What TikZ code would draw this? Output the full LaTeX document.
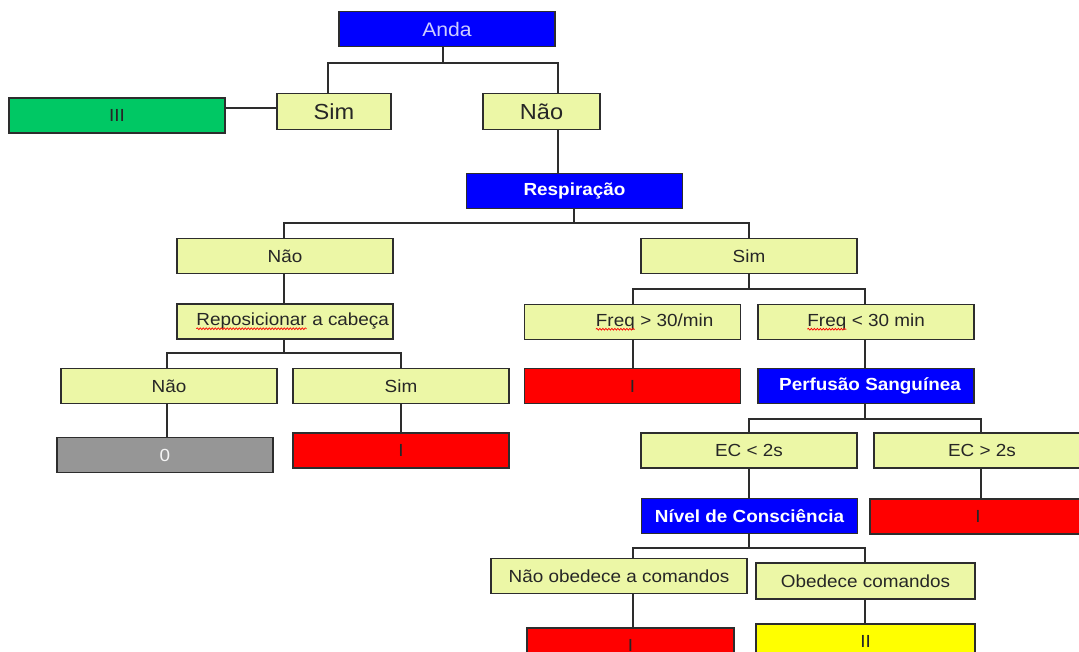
\documentclass[tikz,border=0pt]{standalone}
\usepackage{fontspec}
\setmainfont{Liberation Sans}[FakeStretch=1.08]
\usetikzlibrary{decorations.pathmorphing}
\definecolor{paleyel}{RGB}{236,247,166}
\definecolor{boxblue}{RGB}{0,0,255}
\definecolor{boxgreen}{RGB}{0,200,100}
\definecolor{boxred}{RGB}{255,0,0}
\definecolor{boxgray}{RGB}{150,150,150}
\definecolor{boxyellow}{RGB}{255,255,0}
\definecolor{edgegray}{RGB}{45,45,45}
\definecolor{andatext}{RGB}{205,205,255}
% word with a red wavy spell-check underline
\newcommand\misspelt[1]{\tikz[baseline=(w.base)]{%
  \node[inner sep=0pt,outer sep=0pt,draw=none,fill=none,minimum width=0pt,minimum height=0pt](w){#1};
  \draw[boxred,line width=0.7pt,decorate,decoration={snake,amplitude=0.9pt,segment length=3pt}]
    ([yshift=-3pt]w.base west) -- ([yshift=-3pt]w.base east);}}
\begin{document}
\begin{tikzpicture}[x=1pt,y=-1pt,
  box/.style={draw=edgegray, line width=1.5pt, inner sep=0pt, minimum width=216pt,
    minimum height=35pt, font=\fontsize{17.5}{19}\selectfont, text=black!85},
  choice/.style={box, fill=paleyel},
  bigchoice/.style={choice, minimum height=36pt, font=\fontsize{21.8}{24}\selectfont},
  query/.style={box, fill=boxblue, text=white, font=\fontsize{17.5}{19}\selectfont\bfseries},
  result/.style={box, fill=#1},
  link/.style={draw=edgegray, line width=1.3pt}
]
\fill[white] (0,0) rectangle (1079,652);
\useasboundingbox (0,0) rectangle (1079,652);
\clip (0,0) rectangle (1079,652);

% decision boxes
\node[query, font=\fontsize{19.6}{21}\selectfont, text=andatext] (anda) at (447,29) {Anda};
\node[bigchoice, minimum width=114pt] (sim1) at (334,111.5) {Sim};
\node[bigchoice, minimum width=117pt] (nao1) at (541.5,111.5) {Não};
\node[result=boxgreen] (iii) at (117,115.5) {III};
\node[query] (resp) at (574.5,191) {Respiração};

\node[choice] (nao2) at (285,256) {Não};
\node[choice] (repos) at (285,321.5) {\hspace*{15pt}\misspelt{Reposicionar} a cabeça};
\node[choice] (nao3) at (169,386) {Não};
\node[choice] (sim3) at (401,386) {Sim};
\node[result=boxgray, text=white!92!gray] (zero) at (165,455) {0};
\node[result=boxred] (r1) at (401,450.5) {I};

\node[choice] (sim2) at (749,256) {Sim};
\node[choice] (fq1) at (632.5,322) {\hspace*{44pt}\misspelt{Freq} > 30/min};
\node[choice] (fq2) at (866,322) {\misspelt{Freq} < 30 min};
\node[result=boxred] (r2) at (632.5,386) {I};
\node[query] (perf) at (866,386) {\hspace*{8pt}Perfusão Sanguínea};
\node[choice] (ec1) at (749,450.5) {EC < 2s};
\node[choice] (ec2) at (982,450.5) {EC > 2s};
\node[query] (niv) at (749.5,516) {Nível de Consciência};
\node[result=boxred] (r3) at (978,516.5) {I};
\node[choice, minimum width=256pt] (nob) at (619,576) {Não obedece a comandos};
\node[choice, minimum width=219pt, minimum height=36pt] (ob) at (865.5,581) {Obedece comandos};
\node[result=boxred, minimum width=207pt] (r4) at (630.5,645.5) {I};
\node[result=boxyellow, minimum width=219pt] (ii) at (865.5,641.5) {II};

% junctions and branch columns
\coordinate (j1) at (443,63);  \coordinate (a1) at (328,0); \coordinate (a2) at (558,0);
\coordinate (s3) at (0,108);
\coordinate (j2) at (574,223); \coordinate (b1) at (284,0); \coordinate (b2) at (749,0);
\coordinate (j3) at (284,353); \coordinate (c1) at (167,0); \coordinate (c2) at (401,0);
\coordinate (j4) at (749,289); \coordinate (d1) at (633,0); \coordinate (d2) at (865,0);
\coordinate (j5) at (865,419); \coordinate (e1) at (749,0); \coordinate (e2) at (981,0);
\coordinate (j6) at (749,548); \coordinate (f1) at (633,0); \coordinate (f2) at (865,0);

% connectors
\draw[link] (anda.south -| j1) -- (j1) (sim1.north -| a1) |- (j1) -| (nao1.north -| a2);
\draw[link] (sim1.west |- s3) -- (iii.east |- s3);
\draw[link] (nao1.south -| a2) -- (resp.north -| a2);
\draw[link] (resp.south -| j2) -- (j2) (nao2.north -| b1) |- (j2) -| (sim2.north -| b2);
\draw[link] (nao2.south -| b1) -- (repos.north -| b1);
\draw[link] (repos.south -| j3) -- (j3) (nao3.north -| c1) |- (j3) -| (sim3.north -| c2);
\draw[link] (nao3.south -| c1) -- (zero.north -| c1);
\draw[link] (sim3.south -| c2) -- (r1.north -| c2);
\draw[link] (sim2.south -| j4) -- (j4) (fq1.north -| d1) |- (j4) -| (fq2.north -| d2);
\draw[link] (fq1.south -| d1) -- (r2.north -| d1);
\draw[link] (fq2.south -| d2) -- (perf.north -| d2);
\draw[link] (perf.south -| j5) -- (j5) (ec1.north -| e1) |- (j5) -| (ec2.north -| e2);
\draw[link] (ec1.south -| e1) -- (niv.north -| e1);
\draw[link] (ec2.south -| e2) -- (r3.north -| e2);
\draw[link] (niv.south -| j6) -- (j6) (nob.north -| f1) |- (j6) -| (ob.north -| f2);
\draw[link] (nob.south -| f1) -- (r4.north -| f1);
\draw[link] (ob.south -| f2) -- (ii.north -| f2);
\end{tikzpicture}
\end{document}
